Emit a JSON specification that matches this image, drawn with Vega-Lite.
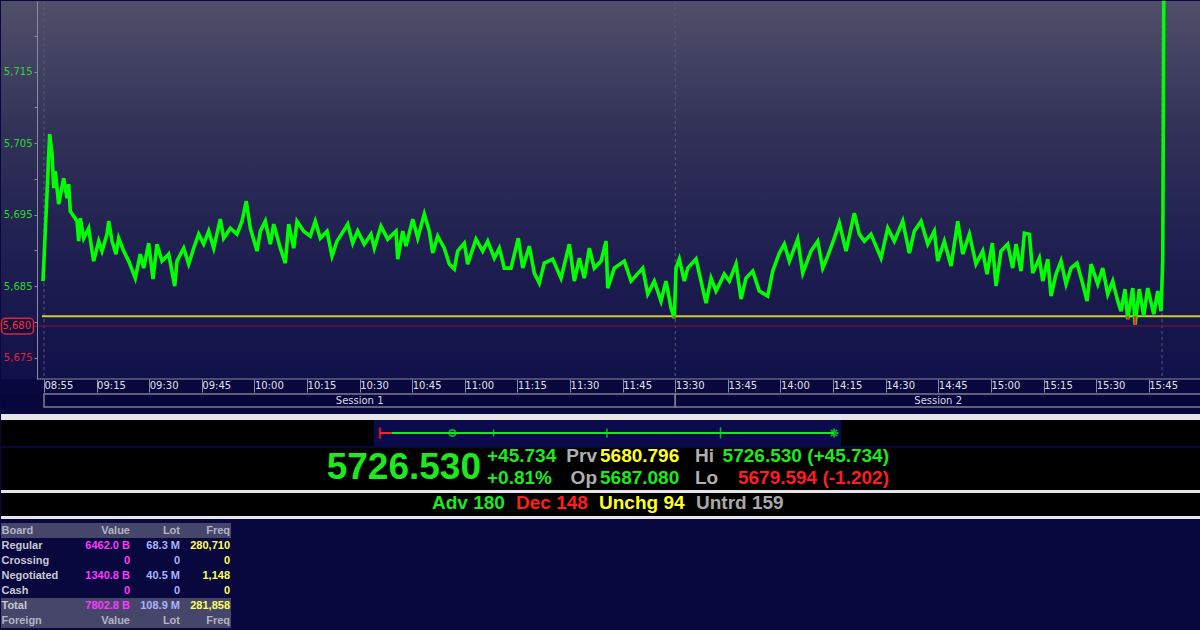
{
  "$schema": "https://vega.github.io/schema/vega-lite/v6.json",
  "background": "#08083f",
  "padding": 0,
  "autosize": {"type": "pad"},
  "columns": 1,
  "align": "none",
  "spacing": 0,
  "bounds": "full",
  "resolve": {"scale": {"color": "independent", "size": "independent"}},
  "config": {"view": {"stroke": null}, "concat": {"spacing": 0}, "text": {"font": "Liberation Sans"}},
  "concat": [
    {
      "width": 1200,
      "height": 378,
      "view": {"stroke": null},
      "data": {"values": [
        {"m":-0.29,"v":5685.7},{"m":0.15,"v":5690.3},{"m":0.55,"v":5694.6},{"m":1.0,"v":5699.5},{"m":1.3,"v":5703.0},{"m":1.63,"v":5706.26},
        {"m":2.28,"v":5703.6},{"m":2.77,"v":5698.71},{"m":3.22,"v":5701.08},{"m":4.19,"v":5696.47},{"m":5.62,"v":5700.1},{"m":6.56,"v":5697.31},
        {"m":7.04,"v":5699.27},{"m":7.5,"v":5695.49},{"m":9.41,"v":5694.09},{"m":9.89,"v":5691.29},{"m":10.35,"v":5694.51},{"m":11.32,"v":5691.71},
        {"m":12.75,"v":5693.11},{"m":13.69,"v":5689.9},{"m":14.17,"v":5688.5},{"m":15.6,"v":5691.29},{"m":16.54,"v":5689.9},{"m":17.96,"v":5692.27},
        {"m":18.45,"v":5694.09},{"m":19.39,"v":5691.29},{"m":20.53,"v":5689.48},{"m":21.3,"v":5691.71},{"m":22.73,"v":5689.9},{"m":24.15,"v":5688.5},
        {"m":26.03,"v":5686.12},{"m":27.46,"v":5689.48},{"m":28.43,"v":5687.52},{"m":29.85,"v":5691.01},{"m":31.08,"v":5685.98},{"m":32.22,"v":5690.87},
        {"m":33.65,"v":5688.5},{"m":35.56,"v":5689.48},{"m":37.27,"v":5685.0},{"m":37.92,"v":5688.5},{"m":39.83,"v":5690.31},{"m":41.26,"v":5688.08},
        {"m":42.69,"v":5690.31},{"m":44.11,"v":5692.27},{"m":45.54,"v":5690.87},{"m":46.96,"v":5692.69},{"m":48.39,"v":5690.31},{"m":50.27,"v":5694.37},
        {"m":51.24,"v":5691.71},{"m":53.12,"v":5693.11},{"m":55.03,"v":5692.27},{"m":56.46,"v":5694.09},{"m":57.68,"v":5696.89},{"m":58.83,"v":5693.11},
        {"m":60.74,"v":5689.9},{"m":61.68,"v":5692.69},{"m":63.1,"v":5694.09},{"m":64.53,"v":5690.87},{"m":65.5,"v":5693.67},{"m":67.38,"v":5690.31},
        {"m":68.81,"v":5688.22},{"m":69.77,"v":5693.67},{"m":71.2,"v":5690.31},{"m":72.14,"v":5694.09},{"m":74.05,"v":5692.69},{"m":75.93,"v":5691.99},
        {"m":77.36,"v":5694.09},{"m":78.79,"v":5691.71},{"m":80.7,"v":5692.69},{"m":82.12,"v":5689.2},{"m":83.55,"v":5691.29},{"m":86.6,"v":5693.67},
        {"m":88.02,"v":5691.01},{"m":89.45,"v":5692.69},{"m":91.33,"v":5690.87},{"m":93.24,"v":5692.27},{"m":94.18,"v":5690.31},{"m":96.09,"v":5693.39},
        {"m":98.0,"v":5691.57},{"m":100.37,"v":5692.69},{"m":100.86,"v":5688.78},{"m":102.28,"v":5692.69},{"m":103.22,"v":5690.59},{"m":105.13,"v":5694.37},
        {"m":106.56,"v":5691.71},{"m":108.44,"v":5695.07},{"m":109.87,"v":5692.69},{"m":110.83,"v":5689.62},{"m":112.26,"v":5691.99},{"m":114.14,"v":5690.31},
        {"m":115.57,"v":5688.08},{"m":116.99,"v":5687.38},{"m":117.96,"v":5689.9},{"m":119.85,"v":5691.01},{"m":120.81,"v":5688.08},{"m":123.18,"v":5691.57},
        {"m":125.09,"v":5689.9},{"m":126.52,"v":5691.29},{"m":128.4,"v":5688.92},{"m":129.83,"v":5690.31},{"m":131.25,"v":5687.52},{"m":133.16,"v":5687.52},
        {"m":135.24,"v":5691.71},{"m":136.5,"v":5687.52},{"m":138.38,"v":5690.59},{"m":139.81,"v":5686.82},{"m":141.23,"v":5685.42},{"m":142.66,"v":5688.22},
        {"m":145.05,"v":5688.78},{"m":147.42,"v":5686.12},{"m":149.79,"v":5690.87},{"m":151.21,"v":5685.7},{"m":152.64,"v":5688.92},{"m":154.06,"v":5686.12},
        {"m":155.49,"v":5690.31},{"m":156.91,"v":5687.52},{"m":158.83,"v":5688.5},{"m":160.25,"v":5691.29},{"m":160.74,"v":5684.72},{"m":162.62,"v":5687.52},
        {"m":165.47,"v":5688.5},{"m":167.38,"v":5685.7},{"m":170.72,"v":5687.52},{"m":172.14,"v":5683.88},{"m":174.02,"v":5685.7},{"m":175.93,"v":5682.9},
        {"m":177.36,"v":5685.7},{"m":178.79,"v":5681.92},{"m":179.73,"v":5680.52},
        {"m":180.21,"v":5687.52},{"m":181.15,"v":5688.78},{"m":182.58,"v":5685.7},{"m":183.55,"v":5687.52},{"m":185.91,"v":5688.78},{"m":187.34,"v":5685.7},
        {"m":188.77,"v":5682.62},{"m":190.19,"v":5686.12},{"m":191.62,"v":5684.3},{"m":193.98,"v":5686.68},{"m":195.41,"v":5685.7},{"m":197.32,"v":5688.08},
        {"m":198.75,"v":5683.18},{"m":200.17,"v":5686.12},{"m":202.08,"v":5687.1},{"m":203.96,"v":5684.3},{"m":206.36,"v":5683.6},{"m":207.78,"v":5687.1},
        {"m":209.67,"v":5689.62},{"m":211.09,"v":5690.87},{"m":212.52,"v":5688.5},{"m":214.91,"v":5691.57},{"m":216.34,"v":5686.82},{"m":218.71,"v":5689.9},
        {"m":220.62,"v":5691.29},{"m":222.04,"v":5687.52},{"m":223.47,"v":5689.2},{"m":225.35,"v":5691.71},{"m":226.78,"v":5693.81},{"m":228.69,"v":5689.9},
        {"m":231.05,"v":5695.21},{"m":232.48,"v":5692.27},{"m":233.9,"v":5691.29},{"m":235.81,"v":5692.27},{"m":238.67,"v":5688.92},{"m":240.58,"v":5693.11},
        {"m":242.46,"v":5691.29},{"m":244.85,"v":5694.09},{"m":246.74,"v":5689.62},{"m":248.16,"v":5692.69},{"m":250.07,"v":5694.09},{"m":251.98,"v":5690.87},
        {"m":253.86,"v":5692.69},{"m":254.83,"v":5688.5},{"m":256.71,"v":5691.29},{"m":258.63,"v":5687.8},{"m":260.54,"v":5694.09},{"m":261.96,"v":5689.48},
        {"m":263.86,"v":5692.27},{"m":265.75,"v":5688.08},{"m":267.66,"v":5689.9},{"m":268.89,"v":5686.68},{"m":270.41,"v":5691.01},{"m":271.46,"v":5685.0},
        {"m":272.88,"v":5689.9},{"m":274.79,"v":5690.87},{"m":276.21,"v":5687.52},{"m":277.16,"v":5690.87},{"m":278.59,"v":5687.1},{"m":279.53,"v":5692.41},
        {"m":280.96,"v":5692.27},{"m":281.92,"v":5686.82},{"m":283.8,"v":5688.92},{"m":284.77,"v":5685.7},{"m":286.2,"v":5688.78},{"m":287.14,"v":5683.6},
        {"m":288.57,"v":5686.68},{"m":289.99,"v":5688.5},{"m":291.42,"v":5685.28},{"m":292.84,"v":5687.52},{"m":294.55,"v":5688.22},{"m":296.18,"v":5685.28},
        {"m":297.41,"v":5682.9},{"m":298.55,"v":5688.08},{"m":300.46,"v":5685.28},{"m":301.88,"v":5687.52},{"m":303.31,"v":5683.88},{"m":304.73,"v":5685.7},
        {"m":306.16,"v":5682.9},{"m":307.1,"v":5681.5},{"m":308.24,"v":5684.58},{"m":309.01,"v":5680.38},{"m":310.44,"v":5684.72},{"m":311.09,"v":5679.6},
        {"m":312.32,"v":5684.58},{"m":313.57,"v":5680.8},{"m":314.71,"v":5684.72},{"m":316.43,"v":5681.08},{"m":317.57,"v":5684.3},{"m":318.51,"v":5681.5},
        {"m":319.0,"v":5688.78},{"m":319.3,"v":5726.53}
      ]},
      "layer": [
        {
          "data": {"values": [{}]},
          "mark": {"type": "rect", "clip": false, "strokeWidth": 0, "color": {"gradient": "linear", "x1": 0, "y1": 0, "x2": 0, "y2": 1, "stops": [{"offset": 0, "color": "#504f6a"}, {"offset": 0.35, "color": "#313158"}, {"offset": 0.7, "color": "#1d1d50"}, {"offset": 1, "color": "#11114a"}]}},
          "encoding": {
            "x": {"datum": -12.26, "type": "quantitative", "scale": {"domain": [-12.26, 329.9], "nice": false, "zero": false}},
            "x2": {"datum": 329.9},
            "y": {"datum": 5672.0, "type": "quantitative", "scale": {"domain": [5672.0, 5724.9], "nice": false, "zero": false}},
            "y2": {"datum": 5724.9}
          }
        },
        {
          "data": {"values": [{"m": 0}, {"m": 180}, {"m": 318.8}]},
          "mark": {"type": "rule", "color": "#5a5a78", "strokeWidth": 1, "strokeDash": [3, 3]},
          "encoding": {"x": {"field": "m", "type": "quantitative", "scale": {"domain": [-12.26, 329.9], "nice": false, "zero": false}}}
        },
        {
          "data": {"values": [{"price": 5679.4}]},
          "mark": {"type": "rule", "color": "#5c1438", "strokeWidth": 1.5},
          "encoding": {
            "x": {"datum": -3.0, "type": "quantitative", "scale": {"domain": [-12.26, 329.9], "nice": false, "zero": false}},
            "x2": {"datum": 329.9},
            "y": {"field": "price", "type": "quantitative", "scale": {"domain": [5672.0, 5724.9], "nice": false, "zero": false}}
          }
        },
        {
          "data": {"values": [{"price": 5680.796}]},
          "mark": {"type": "rule", "color": "#cccc33", "strokeWidth": 2},
          "encoding": {
            "x": {"datum": -0.6, "type": "quantitative", "scale": {"domain": [-12.26, 329.9], "nice": false, "zero": false}},
            "x2": {"datum": 329.9},
            "y": {"field": "price", "type": "quantitative", "scale": {"domain": [5672.0, 5724.9], "nice": false, "zero": false}}
          }
        },
        {
          "data": {"values": [{"price": 5672.0}]},
          "mark": {"type": "rule", "color": "#8a8aa0", "strokeWidth": 1},
          "encoding": {
            "x": {"datum": -2.0, "type": "quantitative", "scale": {"domain": [-12.26, 329.9], "nice": false, "zero": false}},
            "x2": {"datum": 329.9},
            "y": {"field": "price", "type": "quantitative", "scale": {"domain": [5672.0, 5724.9], "nice": false, "zero": false}}
          }
        },
        {
          "mark": {"type": "line", "clip": true, "color": "#00ff00", "strokeWidth": 3.6, "strokeJoin": "miter"},
          "encoding": {
            "x": {"field": "m", "type": "quantitative", "scale": {"domain": [-12.26, 329.9], "nice": false, "zero": false},
              "axis": {"values": [0,15,30,45,60,75,90,105,120,135,150,165,180,195,210,225,240,255,270,285,300,315],
                "labelExpr": "['08:55','09:15','09:30','09:45','10:00','10:15','10:30','10:45','11:00','11:15','11:30','11:45','13:30','13:45','14:00','14:15','14:30','14:45','15:00','15:15','15:30','15:45'][round(datum.value/15)]",
                "title": null, "grid": false, "zindex": 1, "domain": false, "tickColor": "#8a8aa0", "tickSize": 13, "tickWidth": 1,
                "labelAlign": "left", "labelBaseline": "middle", "labelPadding": -7, "labelDx": 1, "labelColor": "#e0e0ea",
                "labelFont": "DejaVu Sans", "labelFontSize": 10, "labelOverlap": false, "labelFlush": false, "labelBound": false}},
            "y": {"field": "v", "type": "quantitative", "scale": {"domain": [5672.0, 5724.9], "nice": false, "zero": false},
              "axis": {"values": [5675,5680,5685,5690,5695,5700,5705,5710,5715,5720],
                "labelExpr": "datum.value % 10 == 5 ? format(datum.value, ',') : ''",
                "title": null, "grid": false, "zindex": 1, "offset": -36, "domainColor": "#8a8aa0", "tickColor": "#8a8aa0", "tickSize": 3,
                "labelPadding": 2, "labelFont": "DejaVu Sans", "labelFontSize": 10,
                "labelColor": {"condition": {"test": "datum.value < 5680", "value": "#e0203c"}, "value": "#2cd82c"},
                "labelOverlap": false, "labelFlush": false}}
          }
        },
        {
          "transform": [{"filter": "datum.v < 5680.796"}],
          "mark": {"type": "rule", "color": "#ff2020", "strokeWidth": 2.5},
          "encoding": {
            "x": {"field": "m", "type": "quantitative", "scale": {"domain": [-12.26, 329.9], "nice": false, "zero": false}},
            "y": {"field": "v", "type": "quantitative", "scale": {"domain": [5672.0, 5724.9], "nice": false, "zero": false}},
            "y2": {"datum": 5680.796}
          }
        },
        {
          "data": {"values": [{"price": 5679.4, "label": "5,680"}]},
          "mark": {"type": "rect", "clip": false, "fill": "#10103e", "stroke": "#e0203c", "strokeWidth": 1.5, "cornerRadius": 4},
          "encoding": {
            "x": {"datum": -12.1, "type": "quantitative", "scale": {"domain": [-12.26, 329.9], "nice": false, "zero": false}},
            "x2": {"datum": -3.0},
            "y": {"datum": 5680.5, "type": "quantitative", "scale": {"domain": [5672.0, 5724.9], "nice": false, "zero": false}},
            "y2": {"datum": 5678.3}
          }
        },
        {
          "data": {"values": [{"price": 5679.4, "label": "5,680"}]},
          "mark": {"type": "text", "clip": false, "align": "right", "baseline": "middle", "color": "#ff2a44", "font": "DejaVu Sans", "fontSize": 10},
          "encoding": {
            "x": {"datum": -3.7, "type": "quantitative", "scale": {"domain": [-12.26, 329.9], "nice": false, "zero": false}},
            "y": {"field": "price", "type": "quantitative", "scale": {"domain": [5672.0, 5724.9], "nice": false, "zero": false}},
            "text": {"field": "label"}
          }
        }
      ]
    },
    {
      "width": 1200,
      "height": 13,
      "view": {"fill": "#06063c", "stroke": null},
      "data": {"values": [{"session": "Session 1", "start": 0, "end": 180, "mid": 90}, {"session": "Session 2", "start": 180, "end": 329.9, "mid": 254.95}]},
      "layer": [
        {
          "mark": {"type": "rect", "fill": "#06063c", "stroke": "#7e7e90", "strokeWidth": 1.5},
          "encoding": {
            "x": {"field": "start", "type": "quantitative", "scale": {"domain": [-12.26, 329.9], "nice": false, "zero": false}, "axis": null},
            "x2": {"field": "end"}
          }
        },
        {
          "mark": {"type": "text", "color": "#d8d8e2", "font": "DejaVu Sans", "fontSize": 10, "baseline": "middle"},
          "encoding": {
            "x": {"field": "mid", "type": "quantitative", "scale": {"domain": [-12.26, 329.9], "nice": false, "zero": false}, "axis": null},
            "text": {"field": "session"}
          }
        }
      ]
    },
    {
      "width": 1200, "height": 6, "view": {"fill": "#08083f", "stroke": null},
      "data": {"values": [{}]}, "mark": {"type": "rect", "opacity": 0}
    },
    {
      "width": 1200, "height": 6, "view": {"fill": "#e6e6ea", "stroke": null},
      "data": {"values": [{}]}, "mark": {"type": "rect", "opacity": 0}
    },
    {
      "width": 1200,
      "height": 26,
      "view": {"fill": "#000000", "stroke": null},
      "data": {"values": [{"low": 5679.594, "prev": 5680.796, "open": 5687.08, "high": 5726.53, "last": 5726.53}]},
      "layer": [
        {
          "mark": {"type": "rect", "color": "#0b0b4c"},
          "encoding": {
            "x": {"datum": 5678.97, "type": "quantitative", "scale": {"domain": [5679.594, 5726.53], "range": [379, 833], "nice": false, "zero": false}, "axis": null},
            "x2": {"datum": 5727.26}
          }
        },
        {
          "mark": {"type": "rule", "color": "#ff2020", "strokeWidth": 2},
          "encoding": {
            "x": {"field": "low", "type": "quantitative", "scale": {"domain": [5679.594, 5726.53], "range": [379, 833], "nice": false, "zero": false}, "axis": null},
            "x2": {"field": "prev"}
          }
        },
        {
          "mark": {"type": "rule", "color": "#11ee11", "strokeWidth": 2},
          "encoding": {
            "x": {"field": "prev", "type": "quantitative", "scale": {"domain": [5679.594, 5726.53], "range": [379, 833], "nice": false, "zero": false}, "axis": null},
            "x2": {"field": "high"}
          }
        },
        {
          "mark": {"type": "tick", "color": "#ff2020", "size": 11, "thickness": 2.5, "orient": "vertical"},
          "encoding": {
            "x": {"field": "low", "type": "quantitative", "scale": {"domain": [5679.594, 5726.53], "range": [379, 833], "nice": false, "zero": false}, "axis": null}
          }
        },
        {
          "mark": {"type": "point", "shape": "circle", "filled": false, "color": "#11ee11", "size": 40, "strokeWidth": 1.8},
          "encoding": {
            "x": {"field": "open", "type": "quantitative", "scale": {"domain": [5679.594, 5726.53], "range": [379, 833], "nice": false, "zero": false}, "axis": null}
          }
        },
        {
          "mark": {"type": "point", "shape": "M0,-1L0,1M-1,0L1,0M-0.7,-0.7L0.7,0.7M-0.7,0.7L0.7,-0.7", "filled": false, "color": "#11ee11", "size": 80, "strokeWidth": 2},
          "encoding": {
            "x": {"field": "last", "type": "quantitative", "scale": {"domain": [5679.594, 5726.53], "range": [379, 833], "nice": false, "zero": false}, "axis": null}
          }
        },
        {
          "data": {"values": [{"q": "25%", "price": 5691.33}, {"q": "50%", "price": 5703.06}, {"q": "75%", "price": 5714.8}]},
          "mark": {"type": "tick", "color": "#11ee11", "thickness": 1.6, "orient": "vertical"},
          "encoding": {
            "x": {"field": "price", "type": "quantitative", "scale": {"domain": [5679.594, 5726.53], "range": [379, 833], "nice": false, "zero": false}, "axis": null},
            "size": {"field": "q", "type": "nominal", "scale": {"domain": ["25%", "50%", "75%"], "range": [7, 11, 7]}, "legend": null}
          }
        }
      ]
    },
    {
      "width": 1200,
      "height": 42,
      "view": {"fill": "#000000", "stroke": null},
      "data": {"values": [
        {"col": 1, "line": "mid", "text": "5726.530", "tone": "up"},
        {"col": 2, "line": "r1", "text": "+45.734", "tone": "up"},
        {"col": 2, "line": "r2", "text": "+0.81%", "tone": "up"},
        {"col": 3, "line": "r1", "text": "Prv", "tone": "neutral"},
        {"col": 3, "line": "r2", "text": "Op", "tone": "neutral"},
        {"col": 4, "line": "r1", "text": "5680.796", "tone": "reference"},
        {"col": 4, "line": "r2", "text": "5687.080", "tone": "up"},
        {"col": 5, "line": "r1", "text": "Hi", "tone": "neutral"},
        {"col": 5, "line": "r2", "text": "Lo", "tone": "neutral"},
        {"col": 6, "line": "r1", "text": "5726.530 (+45.734)", "tone": "up"},
        {"col": 6, "line": "r2", "text": "5679.594 (-1.202)", "tone": "down"}
      ]},
      "encoding": {
        "x": {"field": "col", "type": "quantitative", "scale": {"domain": [1, 2, 3, 4, 5, 6], "range": [480, 486, 596, 599, 694, 888], "nice": false, "zero": false}, "axis": null},
        "y": {"field": "line", "type": "nominal", "scale": {"domain": ["r1", "mid", "r2"], "padding": 0.9}, "axis": null},
        "text": {"field": "text"},
        "color": {"field": "tone", "type": "nominal", "scale": {"domain": ["up", "down", "neutral", "reference"], "range": ["#1ee81e", "#ff1e1e", "#b0b0b0", "#ffff22"]}, "legend": null}
      },
      "layer": [
        {"transform": [{"filter": "datum.col == 1"}], "mark": {"type": "text", "align": "right", "baseline": "middle", "dy": -1, "font": "Liberation Sans", "fontWeight": "bold", "fontSize": 37}},
        {"transform": [{"filter": "datum.col == 3 || datum.col == 6"}], "mark": {"type": "text", "align": "right", "baseline": "middle", "dy": -2, "font": "Liberation Sans", "fontWeight": "bold", "fontSize": 19}},
        {"transform": [{"filter": "datum.col == 2 || datum.col == 4 || datum.col == 5"}], "mark": {"type": "text", "align": "left", "baseline": "middle", "dy": -2, "font": "Liberation Sans", "fontWeight": "bold", "fontSize": 19}}
      ]
    },
    {
      "width": 1200, "height": 3, "view": {"fill": "#e6e6ea", "stroke": null},
      "data": {"values": [{}]}, "mark": {"type": "rect", "opacity": 0}
    },
    {
      "width": 1200,
      "height": 23,
      "view": {"fill": "#000000", "stroke": null},
      "data": {"values": [
        {"col": 1, "text": "Adv 180", "tone": "up"},
        {"col": 2, "text": "Dec 148", "tone": "down"},
        {"col": 3, "text": "Unchg 94", "tone": "reference"},
        {"col": 4, "text": "Untrd 159", "tone": "neutral"}
      ]},
      "mark": {"type": "text", "align": "left", "baseline": "middle", "dy": -2, "font": "Liberation Sans", "fontWeight": "bold", "fontSize": 19},
      "encoding": {
        "x": {"field": "col", "type": "quantitative", "scale": {"domain": [1, 2, 3, 4], "range": [431, 515, 598, 695], "nice": false, "zero": false}, "axis": null},
        "text": {"field": "text"},
        "color": {"field": "tone", "type": "nominal", "scale": {"domain": ["up", "down", "neutral", "reference"], "range": ["#1ee81e", "#ff1e1e", "#a8a8a8", "#ffff22"]}, "legend": null}
      }
    },
    {
      "width": 1200, "height": 3, "view": {"fill": "#e6e6ea", "stroke": null},
      "data": {"values": [{}]}, "mark": {"type": "rect", "opacity": 0}
    },
    {
      "width": 1200, "height": 4, "view": {"fill": "#08083f", "stroke": null},
      "data": {"values": [{}]}, "mark": {"type": "rect", "opacity": 0}
    },
    {
      "width": 230,
      "height": 113,
      "view": {"fill": "#08083f", "stroke": null},
      "resolve": {"scale": {"x": "independent"}},
      "layer": [
        {
          "data": {"values": [{"row": "Board"}, {"row": "Total"}, {"row": "Foreign"}]},
          "mark": {"type": "rect", "color": "#46466a", "clip": true},
          "encoding": {
            "y": {"field": "row", "type": "nominal", "scale": {"domain": ["Board", "Regular", "Crossing", "Negotiated", "Cash", "Total", "Foreign", "Foreign Buy"], "range": [0, 120], "paddingInner": 0, "paddingOuter": 0}, "axis": null}
          }
        },
        {
          "data": {"name": "table"},
          "transform": [{"filter": "datum.col == 'Board'"}],
          "mark": {"type": "text", "align": "left", "baseline": "middle", "clip": true, "font": "Liberation Sans", "fontWeight": "bold", "fontSize": 11},
          "encoding": {
            "x": {"field": "col", "type": "nominal", "scale": {"domain": ["Board"], "range": [0.5, 0.5]}, "axis": null},
            "y": {"field": "row", "type": "nominal", "scale": {"domain": ["Board", "Regular", "Crossing", "Negotiated", "Cash", "Total", "Foreign", "Foreign Buy"], "range": [0, 120], "paddingInner": 0, "paddingOuter": 0}, "axis": null},
            "text": {"field": "text"},
            "color": {"field": "tone", "type": "nominal", "scale": {"domain": ["header", "label", "value", "lot", "freq"], "range": ["#b4b4c4", "#c8c8d2", "#ff38ff", "#a8b4ff", "#ffff5a"]}, "legend": null}
          }
        },
        {
          "data": {"name": "table"},
          "transform": [{"filter": "datum.col != 'Board'"}],
          "mark": {"type": "text", "align": "right", "baseline": "middle", "clip": true, "font": "Liberation Sans", "fontWeight": "bold", "fontSize": 11},
          "encoding": {
            "x": {"field": "col", "type": "nominal", "scale": {"type": "point", "domain": ["Value", "Lot", "Freq"], "range": [129, 229], "padding": 0}, "axis": null},
            "y": {"field": "row", "type": "nominal", "scale": {"domain": ["Board", "Regular", "Crossing", "Negotiated", "Cash", "Total", "Foreign", "Foreign Buy"], "range": [0, 120], "paddingInner": 0, "paddingOuter": 0}, "axis": null},
            "text": {"field": "text"},
            "color": {"field": "tone", "type": "nominal", "scale": {"domain": ["header", "label", "value", "lot", "freq"], "range": ["#b4b4c4", "#c8c8d2", "#ff38ff", "#a8b4ff", "#ffff5a"]}, "legend": null}
          }
        }
      ]
    }
  ],
  "datasets": {
    "table": [
      {"row": "Board", "col": "Board", "text": "Board", "tone": "header"},
      {"row": "Board", "col": "Value", "text": "Value", "tone": "header"},
      {"row": "Board", "col": "Lot", "text": "Lot", "tone": "header"},
      {"row": "Board", "col": "Freq", "text": "Freq", "tone": "header"},
      {"row": "Regular", "col": "Board", "text": "Regular", "tone": "label"},
      {"row": "Regular", "col": "Value", "text": "6462.0 B", "tone": "value"},
      {"row": "Regular", "col": "Lot", "text": "68.3 M", "tone": "lot"},
      {"row": "Regular", "col": "Freq", "text": "280,710", "tone": "freq"},
      {"row": "Crossing", "col": "Board", "text": "Crossing", "tone": "label"},
      {"row": "Crossing", "col": "Value", "text": "0", "tone": "value"},
      {"row": "Crossing", "col": "Lot", "text": "0", "tone": "lot"},
      {"row": "Crossing", "col": "Freq", "text": "0", "tone": "freq"},
      {"row": "Negotiated", "col": "Board", "text": "Negotiated", "tone": "label"},
      {"row": "Negotiated", "col": "Value", "text": "1340.8 B", "tone": "value"},
      {"row": "Negotiated", "col": "Lot", "text": "40.5 M", "tone": "lot"},
      {"row": "Negotiated", "col": "Freq", "text": "1,148", "tone": "freq"},
      {"row": "Cash", "col": "Board", "text": "Cash", "tone": "label"},
      {"row": "Cash", "col": "Value", "text": "0", "tone": "value"},
      {"row": "Cash", "col": "Lot", "text": "0", "tone": "lot"},
      {"row": "Cash", "col": "Freq", "text": "0", "tone": "freq"},
      {"row": "Total", "col": "Board", "text": "Total", "tone": "label"},
      {"row": "Total", "col": "Value", "text": "7802.8 B", "tone": "value"},
      {"row": "Total", "col": "Lot", "text": "108.9 M", "tone": "lot"},
      {"row": "Total", "col": "Freq", "text": "281,858", "tone": "freq"},
      {"row": "Foreign", "col": "Board", "text": "Foreign", "tone": "header"},
      {"row": "Foreign", "col": "Value", "text": "Value", "tone": "header"},
      {"row": "Foreign", "col": "Lot", "text": "Lot", "tone": "header"},
      {"row": "Foreign", "col": "Freq", "text": "Freq", "tone": "header"},
      {"row": "Foreign Buy", "col": "Board", "text": "Foreign Buy", "tone": "label"},
      {"row": "Foreign Buy", "col": "Value", "text": "4818.8 B", "tone": "value"},
      {"row": "Foreign Buy", "col": "Lot", "text": "9.9 M", "tone": "lot"},
      {"row": "Foreign Buy", "col": "Freq", "text": "74,071", "tone": "freq"}
    ]
  }
}
